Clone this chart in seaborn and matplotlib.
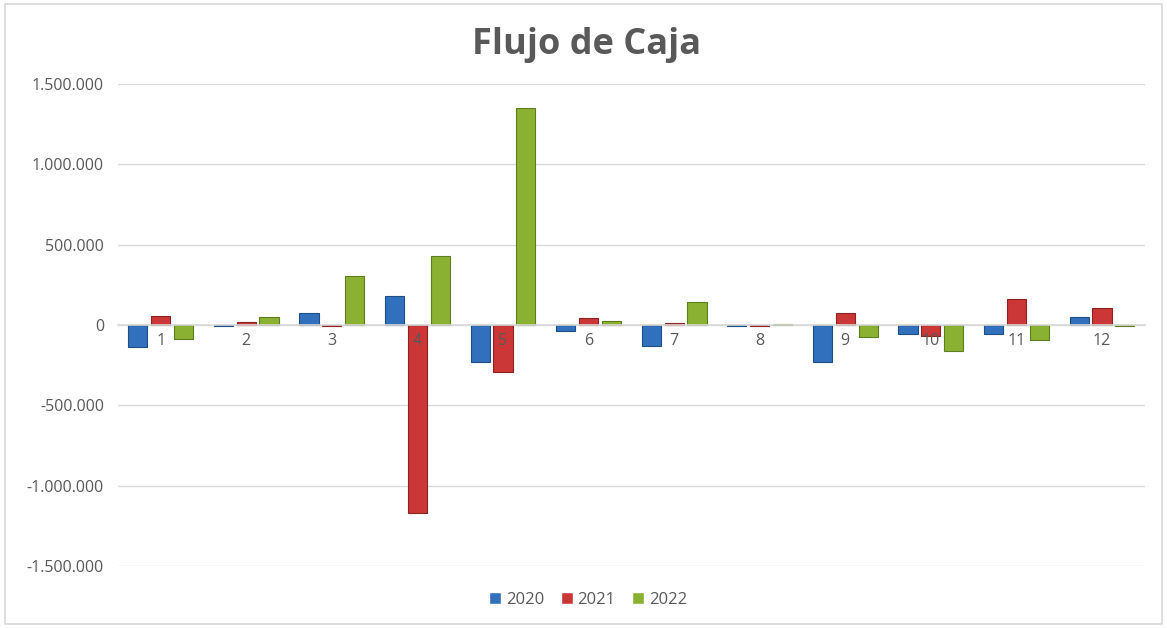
import numpy as np
import pandas as pd
import matplotlib
matplotlib.use("Agg")
import matplotlib.pyplot as plt
import seaborn as sns
from matplotlib import ticker
from matplotlib.patches import Rectangle
from matplotlib.transforms import offset_copy

# datos
meses = [str(m) for m in range(1, 13)]
anios = ["2020", "2021", "2022"]
v2020 = [-135000, -5000, 77000, 180000, -228000, -37000, -128000, -3000, -228000, -56000, -56000, 52000]
v2021 = [56000, 20000, -3000, -1170000, -292000, 44000, 12000, -3000, 77000, -66000, 162000, 104000]
v2022 = [-87000, 48000, 305000, 430000, 1350000, 27000, 141000, 5000, -73000, -160000, -91000, -3000]
yticks = [-1500000, -1000000, -500000, 0, 500000, 1000000, 1500000]

df = pd.DataFrame({
    "Mes": meses * 3,
    "Año": sum([[a] * 12 for a in anios], []),
    "Valor": v2020 + v2021 + v2022,
})

sns.set_style("white")
plt.rcParams["font.family"] = ["Open Sans", "DejaVu Sans"]

fig = plt.figure(figsize=(11.67, 6.28), dpi=100)
ax = fig.add_axes([0.101, 0.0987, 0.880, 0.7675])

colores = ["#3070BC", "#CB3636", "#8AB132"]
bordes = ["#1F4E85", "#8E2222", "#5E7D1C"]
sns.barplot(data=df, x="Mes", y="Valor", hue="Año", palette=colores,
            width=0.8, gap=0.16, saturation=1, ax=ax, legend=True)

# bordes oscuros
for i, cont in enumerate(ax.containers):
    for b in cont:
        b.set_edgecolor(bordes[i])
        b.set_linewidth(0.8)

ax.set_ylim(-1500000, 1500000)
ax.set_xlim(-0.5, 11.5)
ax.set_yticks(yticks)
ax.yaxis.set_major_formatter(ticker.FuncFormatter(lambda v, p: f"{v:,.0f}".replace(",", ".")))
ax.grid(axis="y", color="#D9D9D9", linewidth=1)
ax.set_axisbelow(True)
for s in ["top", "right", "left"]:
    ax.spines[s].set_visible(False)
ax.spines["bottom"].set_position(("data", 0))
ax.spines["bottom"].set_color("#D9D9D9")
ax.spines["bottom"].set_linewidth(1.2)
ax.set_xlabel("")
ax.set_ylabel("")
ax.tick_params(axis="y", length=0, labelsize=11.5, labelcolor="#595959", pad=10)
ax.tick_params(axis="x", which="major", length=0, labelbottom=False)
ax.set_xticks(np.arange(-0.5, 12, 1), minor=True)
ax.tick_params(axis="x", which="minor", length=5, color="#D9D9D9", width=1.2)

# etiquetas de mes encima de las barras
trans = offset_copy(ax.transData, fig=fig, x=0, y=-16, units="dots")
for i, m in enumerate(meses):
    ax.text(i, 0, m, transform=trans, ha="center", va="center",
            fontsize=11.5, color="#595959", zorder=5)

fig.text(0.503, 0.928, "Flujo de Caja", ha="center", va="center",
         fontsize=26, fontweight="bold", color="#595959")

leg = ax.legend(loc="center", bbox_to_anchor=(0.458, -0.07), ncol=3, frameon=False,
                fontsize=12, handlelength=0.7, handleheight=0.7, handletextpad=0.3,
                columnspacing=1.0, labelcolor="#595959")

fig.patches.append(Rectangle((0.004, 0.006), 0.992, 0.988, transform=fig.transFigure,
                             fill=False, edgecolor="#D9D9D9", linewidth=1.2))

fig.savefig("out.png", dpi=100, facecolor="white")
